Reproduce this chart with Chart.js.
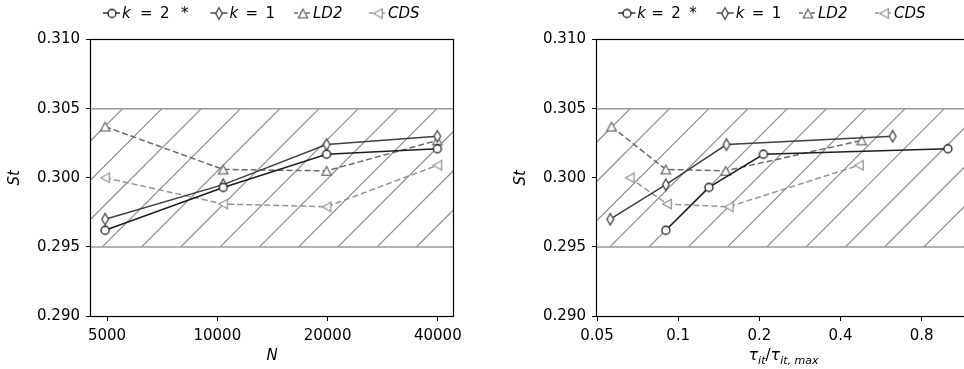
<!DOCTYPE html>
<html>
<head>
<meta charset="utf-8">
<script src="https://cdn.jsdelivr.net/npm/chart.js@4.4.1/dist/chart.umd.min.js"></script>
<style>
  html, body { margin: 0; padding: 0; width: 964px; height: 369px; overflow: hidden; background: #fff; }
  #wrap { position: relative; width: 964px; height: 369px; overflow: hidden; }
  #cN { position: absolute; left: 0; top: 0; }
  #cT { position: absolute; left: 506px; top: 0; }
</style>
</head>
<body>
<div id="wrap">
  <canvas id="cN" width="482" height="369"></canvas>
  <canvas id="cT" width="490" height="369"></canvas>
</div>
<script>
// ---- data ----
const seriesLabels = ['k = 2 *', 'k = 1', 'LD2', 'CDS'];
const meshN   = [4940, 10380, 19880, 39880];
const stK2    = [0.2962, 0.2993, 0.3017, 0.3021];
const stK1    = [0.2970, 0.2995, 0.3024, 0.3030];
const stLD2   = [0.3037, 0.3006, 0.3005, 0.3027];
const stCDS   = [0.3000, 0.2981, 0.2979, 0.3009];
const tauK2   = [0.090, 0.130, 0.207, 1.0];
const tauK1   = [0.056, 0.090, 0.151, 0.624];
const tauLD2  = [0.0566, 0.090, 0.150, 0.479];
const tauCDS  = [0.0661, 0.0909, 0.154, 0.468];
const nTicks   = [5000, 10000, 20000, 40000];
const nTickLabels = ['5000', '10000', '20000', '40000'];
const tauTicks = [0.05, 0.1, 0.2, 0.4, 0.8];
const tauTickLabels = ['0.05', '0.1', '0.2', '0.4', '0.8'];
const stTicks  = [0.290, 0.295, 0.300, 0.305, 0.310];
const bandLow = 0.295, bandHigh = 0.305;

// ---- styling ----
const FONT = "'DejaVu Sans', 'Liberation Sans', sans-serif";
Chart.defaults.font.family = FONT;
Chart.defaults.font.size = 15;
Chart.defaults.color = '#000';

const styles = [
  { color: '#1e1e1e', shape: 'o', dash: [] },
  { color: '#404040', shape: 'd', dash: [] },
  { color: '#6a6a6a', shape: '^', dash: [6, 3] },
  { color: '#959595', shape: '<', dash: [6, 3] }
];

function marker(shape, stroke) {
  const c = document.createElement('canvas');
  const s = 16; c.width = s; c.height = s;
  const g = c.getContext('2d');
  g.translate(s / 2, s / 2);
  g.beginPath();
  if (shape === 'o') g.arc(0, 0, 4.0, 0, Math.PI * 2);
  else if (shape === 'd') { g.moveTo(0, -5.8); g.lineTo(3.3, 0); g.lineTo(0, 5.8); g.lineTo(-3.3, 0); g.closePath(); }
  else if (shape === '^') { g.moveTo(0, -4.3); g.lineTo(4.7, 4.3); g.lineTo(-4.7, 4.3); g.closePath(); }
  else if (shape === '<') { g.moveTo(-4.3, 0); g.lineTo(4.3, -4.7); g.lineTo(4.3, 4.7); g.closePath(); }
  g.fillStyle = '#fff'; g.fill();
  g.lineWidth = 1.3; g.strokeStyle = stroke; g.stroke();
  return c;
}
const markers = styles.map(s => marker(s.shape, s.color));

function makeDatasets(xs, ys) {
  return xs.map((xv, i) => ({
    label: seriesLabels[i],
    data: xv.map((x, j) => ({ x: x, y: ys[i][j] })),
    borderColor: styles[i].color,
    borderWidth: 1.5,
    borderDash: styles[i].dash,
    pointStyle: markers[i],
    pointRadius: 5,
    tension: 0,
    fill: false
  }));
}

// hatched tolerance band with its edge lines
const bandPlugin = {
  id: 'band',
  beforeDatasetsDraw(chart, args, opts) {
    const { ctx, chartArea: a, scales: { y } } = chart;
    const yTop = y.getPixelForValue(bandHigh), yBot = y.getPixelForValue(bandLow);
    ctx.save();
    ctx.beginPath(); ctx.rect(a.left, yTop, a.right - a.left, yBot - yTop); ctx.clip();
    ctx.strokeStyle = '#8c8c8c'; ctx.lineWidth = 1.2;
    const sp = opts.spacing, ph = opts.phase, off = opts.offset;
    const minC = a.left + off + yTop - sp, maxC = a.right + off + yBot + sp;
    const k0 = Math.floor((minC - ph) / sp);
    for (let c = ph + k0 * sp; c <= maxC; c += sp) {
      ctx.beginPath();
      ctx.moveTo(c - off - yBot, yBot);
      ctx.lineTo(c - off - yTop, yTop);
      ctx.stroke();
    }
    ctx.restore();
    ctx.save();
    ctx.strokeStyle = '#999999'; ctx.lineWidth = 1.5;
    [yTop, yBot].forEach(py => {
      ctx.beginPath(); ctx.moveTo(a.left, py); ctx.lineTo(a.right, py); ctx.stroke();
    });
    ctx.restore();
  }
};

// axes frame on all four sides
const framePlugin = {
  id: 'frame',
  afterDatasetsDraw(chart) {
    const { ctx, chartArea: a } = chart;
    ctx.save();
    ctx.strokeStyle = '#000'; ctx.lineWidth = 1.2;
    const l = Math.round(a.left) - 0.5, t = Math.round(a.top) - 0.5;
    const r = Math.round(a.right) + 0.5, b = Math.round(a.bottom) + 0.5;
    ctx.strokeRect(l, t, r - l, b - t);
    ctx.restore();
  }
};

// draws a run of text pieces: [text, italic, size, dy]
function drawPieces(ctx, pieces, x, y, align) {
  const widths = pieces.map(p => {
    ctx.font = (p[1] ? 'oblique ' : '') + p[2] + 'px ' + FONT;
    return ctx.measureText(p[0]).width;
  });
  const total = widths.reduce((s, w) => s + w, 0);
  let cx = align === 'center' ? x - total / 2 : x;
  ctx.textBaseline = 'alphabetic';
  ctx.textAlign = 'left';
  pieces.forEach((p, i) => {
    ctx.font = (p[1] ? 'oblique ' : '') + p[2] + 'px ' + FONT;
    ctx.fillText(p[0], cx, y + (p[3] || 0));
    cx += widths[i];
  });
}

// legend entries as placed glyphs: [text, italic, dx]
function legendGlyphs(spread) {
  return [
    [['k', true, 0], ['=', false, spread[0]], ['2', false, spread[1]], ['*', false, spread[2]]],
    [['k', true, 0], ['=', false, 16], ['1', false, 36]],
    [['LD2', true, 0]],
    [['CDS', true, 0]]
  ];
}

const legendPlugin = {
  id: 'mplLegend',
  afterDraw(chart, args, opts) {
    const ctx = chart.ctx;
    const y = opts.y;
    const glyphs = legendGlyphs(opts.spread);
    ctx.save();
    ctx.fillStyle = '#000';
    ctx.textBaseline = 'alphabetic';
    ctx.textAlign = 'left';
    opts.starts.forEach((hx, i) => {
      const st = styles[i];
      ctx.strokeStyle = st.color; ctx.lineWidth = 1.4;
      ctx.setLineDash(st.dash.length ? [4, 2] : []);
      ctx.beginPath(); ctx.moveTo(hx, y + 0.5); ctx.lineTo(hx + opts.handle, y + 0.5); ctx.stroke();
      ctx.setLineDash([]);
      const m = markers[i];
      ctx.drawImage(m, Math.round(hx + opts.handle / 2 - m.width / 2), Math.round(y - m.height / 2) + 0.5);
      const tx = hx + opts.handle + 2;
      glyphs[i].forEach(g => {
        ctx.font = (g[1] ? 'oblique ' : '') + '15px ' + FONT;
        ctx.fillText(g[0], tx + g[2], y + 5.5);
      });
    });
    ctx.restore();
  }
};

const tauTitlePlugin = {
  id: 'tauTitle',
  afterDraw(chart, args, opts) {
    if (!opts.show) return;
    const ctx = chart.ctx;
    ctx.save();
    ctx.fillStyle = '#000';
    drawPieces(ctx, [
      ['τ', true, 16], ['it', true, 11, 3.5], ['/', false, 15],
      ['τ', true, 16], ['it, max', true, 11, 3.5]
    ], opts.cx, opts.y, 'center');
    ctx.restore();
  }
};

function baseOptions(xCfg, padRight, bandOffset, bandPhase, legendStarts, spread, tau) {
  return {
    responsive: false,
    animation: false,
    devicePixelRatio: 1,
    layout: { padding: { top: 39.5, right: padRight, left: 0, bottom: 0 } },
    scales: {
      x: Object.assign({
        type: 'logarithmic',
        grid: { drawOnChartArea: false, drawTicks: true, tickLength: 5, color: '#000', lineWidth: 1 },
        border: { display: false },
        afterFit: s => { s.height = 53; }
      }, xCfg),
      y: {
        min: 0.290, max: 0.310,
        afterBuildTicks: s => { s.ticks = stTicks.map(v => ({ value: v })); },
        grid: { drawOnChartArea: false, drawTicks: true, tickLength: 5, color: '#000', lineWidth: 1 },
        border: { display: false },
        ticks: { padding: 6, color: '#000', font: { size: 15 }, callback: v => v.toFixed(3) },
        title: { display: true, text: 'St', font: { size: 15, style: 'italic' }, color: '#000', padding: { top: 6, bottom: 0 } },
        afterFit: s => { s.width = 91; }
      }
    },
    plugins: {
      legend: { display: false },
      tooltip: { enabled: false },
      band: { spacing: 39.27, phase: bandPhase, offset: bandOffset },
      mplLegend: { starts: legendStarts, handle: 17, y: 12.5, spread: spread },
      tauTitle: tau
    }
  };
}

// left panel: Strouhal number against mesh size
new Chart(document.getElementById('cN'), {
  type: 'line',
  data: { datasets: makeDatasets([meshN, meshN, meshN, meshN], [stK2, stK1, stLD2, stCDS]) },
  options: baseOptions({
    min: 4520, max: 44000,
    afterBuildTicks: s => { s.ticks = nTicks.map(v => ({ value: v })); },
    ticks: { padding: 6, color: '#000', font: { size: 15 }, maxRotation: 0, autoSkip: false,
             callback: v => { const i = nTicks.indexOf(v); return i >= 0 ? nTickLabels[i] : ''; } },
    title: { display: true, text: 'N', font: { size: 15, style: 'italic' }, color: '#000', padding: { top: 0, bottom: 4 } }
  }, 29, 0, 35, [103, 210.5, 294, 369], [18, 38, 59], { show: false }),
  plugins: [bandPlugin, framePlugin, legendPlugin, tauTitlePlugin]
});

// right panel: Strouhal number against relative iteration time
new Chart(document.getElementById('cT'), {
  type: 'line',
  data: { datasets: makeDatasets([tauK2, tauK1, tauLD2, tauCDS], [stK2, stK1, stLD2, stCDS]) },
  options: baseOptions({
    min: 0.05, max: 1.25,
    afterBuildTicks: s => { s.ticks = tauTicks.map(v => ({ value: v })); },
    ticks: { padding: 6, color: '#000', font: { size: 15 }, maxRotation: 0, autoSkip: false,
             callback: v => { const i = tauTicks.indexOf(v); return i >= 0 ? tauTickLabels[i] : ''; } },
    title: { display: false }
  }, 22, 506, 32, [112.3, 210.7, 293, 369], [14, 34, 52], { show: true, cx: 277.5, y: 360 }),
  plugins: [bandPlugin, framePlugin, legendPlugin, tauTitlePlugin]
});
</script>
</body>
</html>
